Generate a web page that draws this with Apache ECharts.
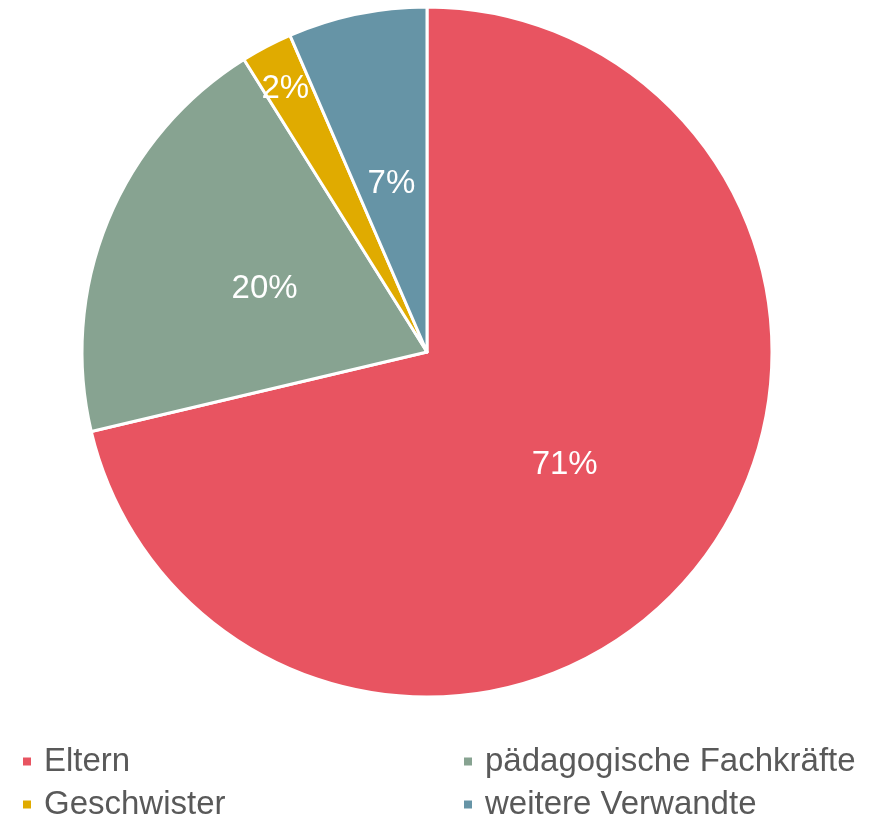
<!DOCTYPE html>
<html>
<head>
<meta charset="utf-8">
<script src="https://cdn.jsdelivr.net/npm/echarts@6/dist/echarts.min.js"></script>
<style>
  html, body { margin: 0; padding: 0; background: #fff; }
  #chart { width: 871px; height: 816px; }
</style>
</head>
<body>
<div id="chart"></div>
<script>
  // Anteile in Prozent, im Uhrzeigersinn ab 12 Uhr
  let categories = ["Eltern", "pädagogische Fachkräfte", "Geschwister", "weitere Verwandte"];
  let values = [71.3, 19.8, 2.4, 6.5];
  let labels = ["71%", "20%", "2%", "7%"];
  let colors = ["#e85461", "#87a391", "#e0ab00", "#6694a6"];

  let seriesData = [];
  for (let i = 0; i < categories.length; i++) {
    let item = {
      name: categories[i],
      value: values[i],
      itemStyle: { color: colors[i] }
    };
    // das kleine Stück: Beschriftung weiter aussen wie im Original
    if (categories[i] === "Geschwister") {
      item.label = { offset: [-60, -108] };
    }
    seriesData.push(item);
  }

  let legendText = {
    color: "#595959",
    fontSize: 33,
    lineHeight: 26,
    fontFamily: "Liberation Sans, Arial, sans-serif",
    padding: [0, 0, 0, 7]
  };

  let makeLegend = function (names, left) {
    return {
      data: names,
      orient: "vertical",
      left: left,
      top: 745,
      width: 420,
      height: 120,
      padding: 0,
      itemWidth: 10,
      itemHeight: 10,
      itemGap: 10,
      icon: "rect",
      textStyle: legendText
    };
  };

  let myChart = echarts.init(document.getElementById("chart"));
  const option = {
    animation: false,
    textStyle: { fontFamily: "Liberation Sans, Arial, sans-serif" },
    legend: [
      makeLegend([categories[0], categories[2]], 21),
      makeLegend([categories[1], categories[3]], 462)
    ],
    series: [
      {
        type: "pie",
        center: [427, 352],
        radius: [0, 345],
        startAngle: 90,
        clockwise: true,
        data: seriesData,
        itemStyle: { borderColor: "#ffffff", borderWidth: 3 },
        label: {
          position: "inside",
          color: "#ffffff",
          fontSize: 33,
          offset: [0, 4],
          fontFamily: "Liberation Sans, Arial, sans-serif",
          formatter: function (p) { return labels[p.dataIndex]; }
        },
        labelLine: { show: false },
        emphasis: { disabled: true }
      }
    ]
  };
  myChart.setOption(option);
</script>
</body>
</html>
